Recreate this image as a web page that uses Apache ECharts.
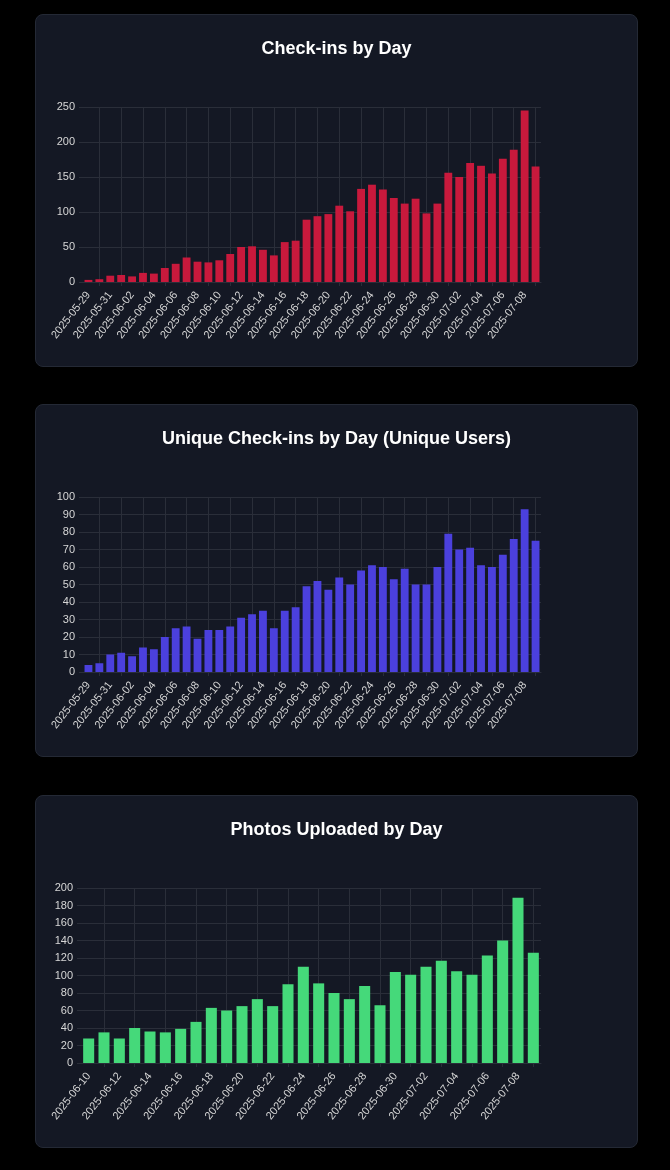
<!DOCTYPE html>
<html>
<head>
<meta charset="utf-8">
<script src="https://cdn.jsdelivr.net/npm/echarts@6/dist/echarts.min.js"></script>
<style>
  html, body { margin: 0; padding: 0; background: #000; width: 670px; height: 1170px; overflow: hidden; }
  .card { position: absolute; left: 35px; width: 601px; height: 351px; background: #141824; border: 1px solid #242935; border-radius: 8px; }
  .chart { width: 601px; height: 351px; }
</style>
</head>
<body>
<div class="card" style="top:14px"><div id="c1" class="chart"></div></div>
<div class="card" style="top:404px"><div id="c2" class="chart"></div></div>
<div class="card" style="top:795px"><div id="c3" class="chart"></div></div>
<script>
const checkinDates = [
  "2025-05-29","2025-05-30","2025-05-31","2025-06-01","2025-06-02","2025-06-03","2025-06-04",
  "2025-06-05","2025-06-06","2025-06-07","2025-06-08","2025-06-09","2025-06-10","2025-06-11",
  "2025-06-12","2025-06-13","2025-06-14","2025-06-15","2025-06-16","2025-06-17","2025-06-18",
  "2025-06-19","2025-06-20","2025-06-21","2025-06-22","2025-06-23","2025-06-24","2025-06-25",
  "2025-06-26","2025-06-27","2025-06-28","2025-06-29","2025-06-30","2025-07-01","2025-07-02",
  "2025-07-03","2025-07-04","2025-07-05","2025-07-06","2025-07-07","2025-07-08","2025-07-09"
];
const checkins = [
  3, 4, 9, 10, 8, 13, 12, 20, 26, 35, 29, 28, 31, 40,
  50, 51, 46, 38, 57, 59, 89, 94, 97, 109, 101, 133, 139, 132,
  120, 112, 119, 98, 112, 156, 150, 170, 166, 155, 176, 189, 245, 165
];
const uniqueUsers = [
  4, 5, 10, 11, 9, 14, 13, 20, 25, 26, 19, 24, 24, 26,
  31, 33, 35, 25, 35, 37, 49, 52, 47, 54, 50, 58, 61, 60,
  53, 59, 50, 50, 60, 79, 70, 71, 61, 60, 67, 76, 93, 75
];
const photoDates = [
  "2025-06-10","2025-06-11","2025-06-12","2025-06-13","2025-06-14","2025-06-15","2025-06-16",
  "2025-06-17","2025-06-18","2025-06-19","2025-06-20","2025-06-21","2025-06-22","2025-06-23",
  "2025-06-24","2025-06-25","2025-06-26","2025-06-27","2025-06-28","2025-06-29","2025-06-30",
  "2025-07-01","2025-07-02","2025-07-03","2025-07-04","2025-07-05","2025-07-06","2025-07-07",
  "2025-07-08","2025-07-09"
];
const photos = [
  28, 35, 28, 40, 36, 35, 39, 47, 63, 60, 65, 73, 65, 90,
  110, 91, 80, 73, 88, 66, 104, 101, 110, 117, 105, 101, 123, 140,
  189, 126
];

const FONT = "Liberation Sans, Arial, sans-serif";
const GRID = "#2a2e39";
const oddIdx = function (i) { return i % 2 === 1; };

function makeChart(id, title, cats, vals, color, yMax, yStep, gridLeft) {
  const chart = echarts.init(document.getElementById(id), null, { renderer: 'canvas' });
  chart.setOption({
    animation: false,
    backgroundColor: 'transparent',
    title: {
      text: title, left: 'center', top: 20,
      textStyle: { color: '#ffffff', fontSize: 18, fontWeight: 'bold', fontFamily: FONT }
    },
    grid: { left: gridLeft, right: 96, top: 92, bottom: 84 },
    xAxis: {
      type: 'category', data: cats, boundaryGap: true,
      axisLine: { show: true, lineStyle: { color: GRID } },
      axisTick: { show: true, alignWithLabel: true, interval: oddIdx, length: 4, lineStyle: { color: GRID } },
      splitLine: { show: true, alignWithLabel: true, interval: oddIdx, lineStyle: { color: GRID, width: 1 } },
      axisLabel: { interval: 1, rotate: 52, color: '#d6d6d6', fontSize: 11, fontFamily: FONT, margin: 11 }
    },
    yAxis: {
      type: 'value', min: 0, max: yMax, interval: yStep,
      axisLine: { show: false },
      axisTick: { show: true, length: 4, lineStyle: { color: GRID } },
      splitLine: { show: true, lineStyle: { color: GRID, width: 1 } },
      axisLabel: { color: '#d6d6d6', fontSize: 11, fontFamily: FONT, margin: 8 }
    },
    series: [{
      type: 'bar', data: vals, barWidth: '72%',
      itemStyle: { color: color }
    }]
  });
}

makeChart('c1', 'Check-ins by Day', checkinDates, checkins, '#c8193c', 250, 50, 47);
makeChart('c2', 'Unique Check-ins by Day (Unique Users)', checkinDates, uniqueUsers, '#4b40dd', 100, 10, 47);
makeChart('c3', 'Photos Uploaded by Day', photoDates, photos, '#45d97a', 200, 20, 45);
</script>
</body>
</html>
